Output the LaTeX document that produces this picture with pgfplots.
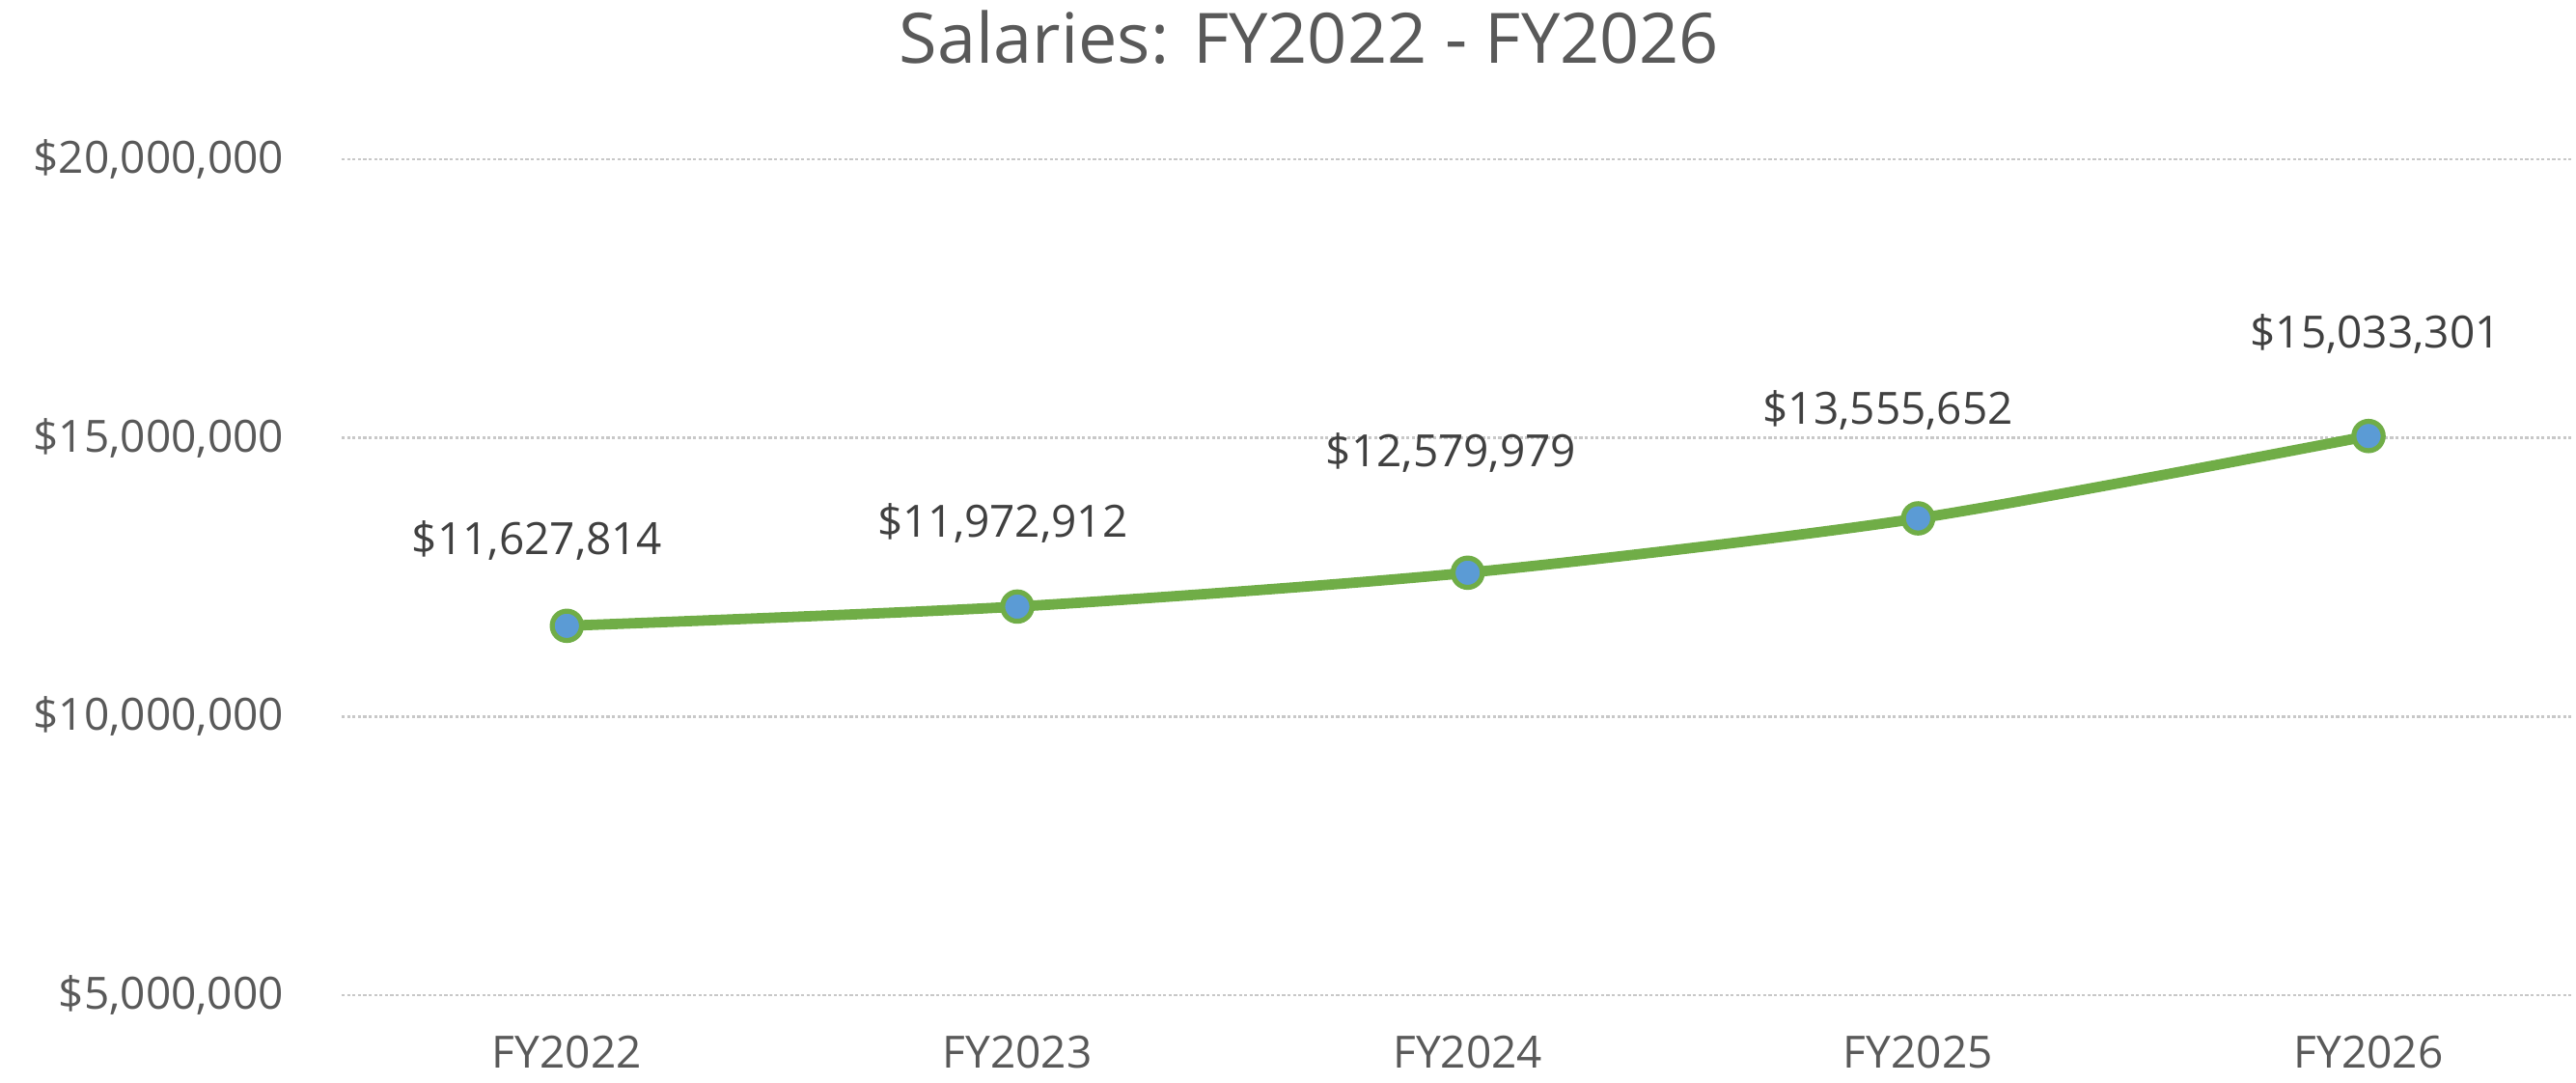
\documentclass[border=0pt]{standalone}
\usepackage{fontspec}
\setmainfont{Open Sans}
\usepackage{pgfplots}
\usepackage{pgfplotstable}
\pgfplotsset{compat=1.18}
\definecolor{txt}{HTML}{595959}
\definecolor{lbl}{HTML}{404040}
\definecolor{lgreen}{HTML}{70AD47}
\definecolor{mblue}{HTML}{5B9BD5}
\definecolor{gridc}{HTML}{C8C8C8}
\pgfplotstableread{
x y dx dy label
0 11627814 -7.7 22.1 \$11,627,814
1 11972912 -3.8 21.7 \$11,972,912
2 12579979 -4.3 31.0 \$12,579,979
3 13555652 -7.8 28.0 \$13,555,652
4 15033301 1.75 26.5 \$15,033,301
}\salaries
\begin{document}
\begin{tikzpicture}[x=1pt,y=1pt]
\useasboundingbox (-88.5,-22.75) rectangle (578.75,257.75);
\begin{axis}[
  at={(0,0)}, anchor=south west,
  width=577.5pt, height=216.5pt, scale only axis,
  xmin=-0.5, xmax=4.45, ymin=5000000, ymax=20000000,
  xtick={0,1,2,3,4},
  xticklabels={FY2022,FY2023,FY2024,FY2025,FY2026},
  ytick={5000000,10000000,15000000,20000000},
  yticklabels={{\$5,000,000},{\$10,000,000},{\$15,000,000},{\$20,000,000}},
  scaled y ticks=false,
  ymajorgrids,
  grid style={gridc, line width=0.6pt, dash pattern=on 0.8pt off 0.6pt},
  axis line style={draw=none},
  major tick length=0pt,
  tick label style={font=\fontsize{11.5}{13}\selectfont, text=txt},
  /pgf/number format/assume math mode=true,
  yticklabel style={anchor=east, xshift=-11.5pt},
  xticklabel style={anchor=north, yshift=-6.9pt},
  title={Salaries: FY2022 - FY2026},
  title style={font=\fontsize{18}{22}\selectfont, text=txt, at={(axis description cs:0.434,1)}, anchor=center, yshift=25.5pt},
  clip=false,
]
\addplot[
  smooth, tension=0.45, color=lgreen, line width=2.7pt,
  mark=*, mark size=3.8pt,
  mark options={fill=mblue, draw=lgreen, line width=1.3pt},
  point meta=explicit symbolic,
  visualization depends on={\thisrow{dx} \as \dx},
  visualization depends on={\thisrow{dy} \as \dy},
  nodes near coords,
  nodes near coords style={anchor=center, xshift=\dx pt, yshift=\dy pt, text=lbl, font=\fontsize{11.5}{13}\selectfont},
] table[x=x, y=y, meta=label] {\salaries};
\end{axis}
\end{tikzpicture}
\end{document}
